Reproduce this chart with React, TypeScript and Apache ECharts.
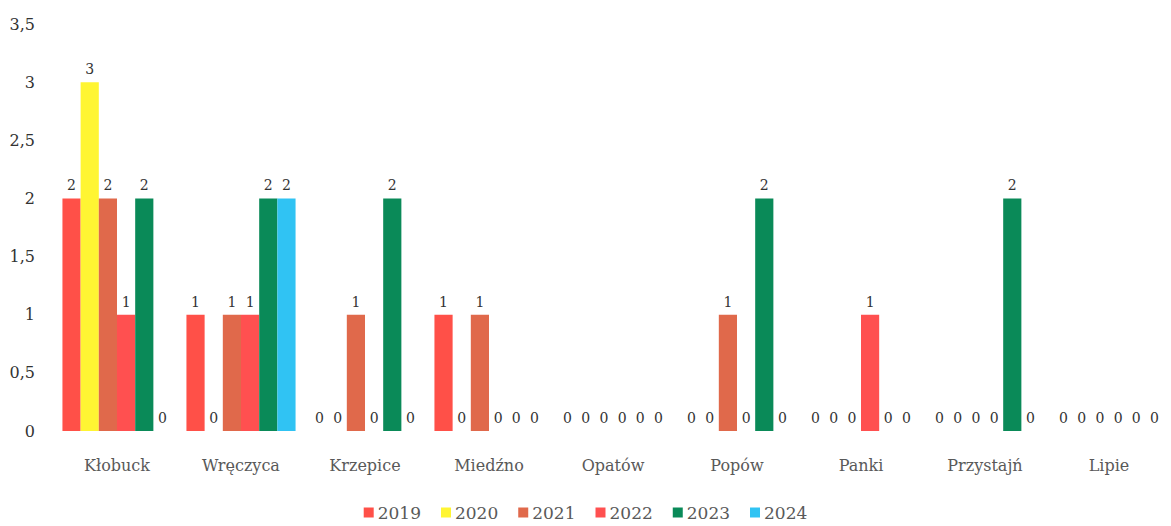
import React, { useEffect, useRef } from "react";
import * as echarts from "echarts";

const categories = ["Kłobuck", "Wręczyca", "Krzepice", "Miedźno", "Opatów", "Popów", "Panki", "Przystajń", "Lipie"];
const years = ["2019", "2020", "2021", "2022", "2023", "2024"];
const v2019 = [2, 1, 0, 1, 0, 0, 0, 0, 0];
const v2020 = [3, 0, 0, 0, 0, 0, 0, 0, 0];
const v2021 = [2, 1, 1, 1, 0, 1, 0, 0, 0];
const v2022 = [1, 1, 0, 0, 0, 0, 1, 0, 0];
const v2023 = [2, 2, 2, 0, 0, 2, 0, 2, 0];
const v2024 = [0, 2, 0, 0, 0, 0, 0, 0, 0];
const seriesValues = [v2019, v2020, v2021, v2022, v2023, v2024];
const colors = ["#FF5048", "#FFF533", "#E0694B", "#FF5050", "#0A8A58", "#30C3F3"];
const yTicks = ["0", "0,5", "1", "1,5", "2", "2,5", "3", "3,5"];

const FONT = "DejaVu Serif";

export default function App() {
  const ref = useRef<HTMLDivElement>(null);
  useEffect(() => {
    if (!ref.current) return;
    const chart = echarts.init(ref.current, null, { renderer: "svg" });
    chart.setOption({
      animation: false,
      backgroundColor: "#ffffff",
      textStyle: { fontFamily: FONT },
      grid: { left: 55, right: -10, top: 24, bottom: 95, containLabel: false },
      legend: {
        bottom: 0,
        left: "center",
        itemWidth: 10,
        itemHeight: 10,
        itemGap: 20,
        icon: "rect",
        textStyle: { fontFamily: FONT, fontSize: 17, color: "#595959", padding: [0, 0, 0, -1] },
        data: years,
      },
      xAxis: {
        type: "category",
        data: categories,
        axisLine: { show: false },
        axisTick: { show: false },
        axisLabel: { fontFamily: FONT, fontSize: 16, color: "#595959", margin: 26 },
      },
      yAxis: {
        type: "value",
        min: 0,
        max: 3.5,
        interval: 0.5,
        splitLine: { show: false },
        axisLine: { show: false },
        axisTick: { show: false },
        axisLabel: {
          fontFamily: FONT,
          fontSize: 16,
          color: "#333333",
          margin: 20,
          formatter: (v: number) => yTicks[Math.round(v / 0.5)] ?? String(v).replace(".", ","),
        },
      },
      series: years.map((y, i) => ({
        name: y,
        type: "bar",
        data: seriesValues[i],
        barGap: "0%",
        barCategoryGap: "12%",
        itemStyle: { color: colors[i] },
        label: {
          show: true,
          position: "top",
          distance: 6,
          fontFamily: FONT,
          fontSize: 14,
          color: "#333333",
        },
      })),
    });
    return () => chart.dispose();
  }, []);
  return (
    <div
      ref={ref}
      style={{ position: "fixed", left: 0, top: 0, width: 1171, height: 526 }}
    />
  );
}
